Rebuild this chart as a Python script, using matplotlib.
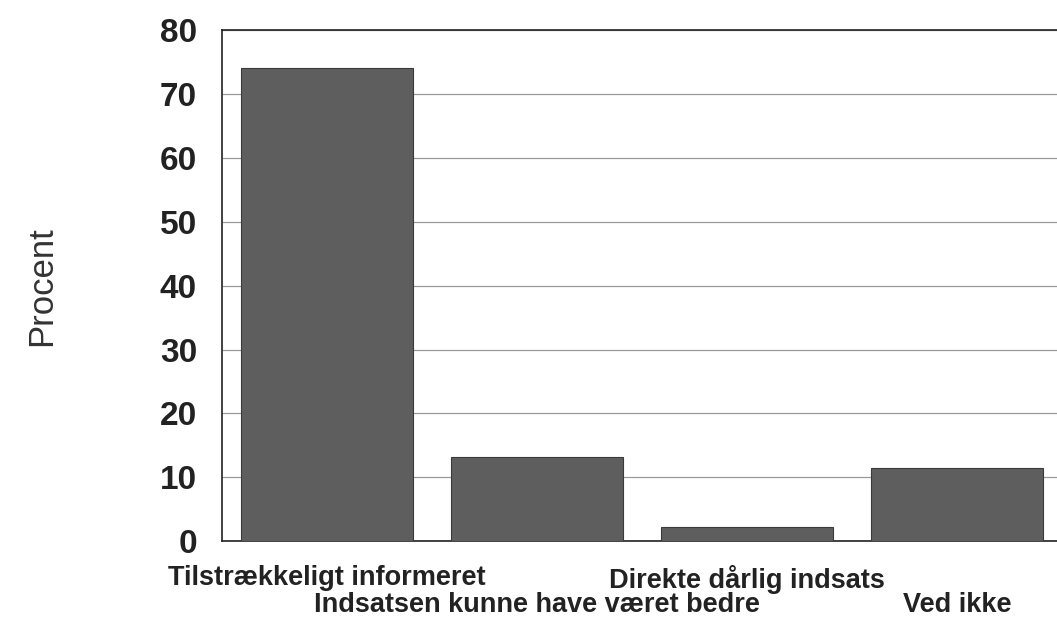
import matplotlib
matplotlib.use('Agg')
import matplotlib.pyplot as plt
import matplotlib.transforms as mtransforms

# Data
kategorier = ['Tilstrækkeligt informeret', 'Indsatsen kunne have været bedre',
              'Direkte dårlig indsats', 'Ved ikke']
procent = [74.1, 13.1, 2.2, 11.4]
yticks = [0, 10, 20, 30, 40, 50, 60, 70, 80]

plt.rcParams['font.family'] = ['Liberation Sans', 'DejaVu Sans']

fig = plt.figure(figsize=(10.57, 6.17), dpi=100)
ax = fig.add_axes([0.21, 0.123, 0.795, 0.828])

x = range(len(kategorier))
ax.bar(x, procent, width=0.82, color='#5e5e5e', edgecolor='#3a3a3a', linewidth=0.8, zorder=3)

# Gitterlinjer
ax.set_ylim(0, 80)
ax.set_xlim(-0.5, 3.5)
ax.set_yticks(yticks)
ax.yaxis.grid(True, color='#9a9a9a', linewidth=0.9, zorder=0)
ax.set_axisbelow(True)

# Labels, hver anden flyttes en linje ned
ax.set_xticks(list(x))
ax.set_xticklabels(kategorier, fontsize=19.5, fontweight='bold', color='#222222')
ax.tick_params(axis='x', length=0, pad=17)
ned = mtransforms.ScaledTranslation(0, -20 / 72, fig.dpi_scale_trans)
for i, t in enumerate(ax.get_xticklabels()):
    if i % 2 == 1:
        t.set_transform(t.get_transform() + ned)

ax.tick_params(axis='y', length=0, pad=18, labelsize=24, labelcolor='#222222')
for t in ax.get_yticklabels():
    t.set_fontweight('bold')

ax.set_ylabel('Procent', fontsize=25, color='#333333', labelpad=73)

for side in ['left', 'top', 'bottom']:
    ax.spines[side].set_color('#222222')
    ax.spines[side].set_linewidth(1.2)
ax.spines['right'].set_visible(False)

fig.savefig('out.png', dpi=100)
